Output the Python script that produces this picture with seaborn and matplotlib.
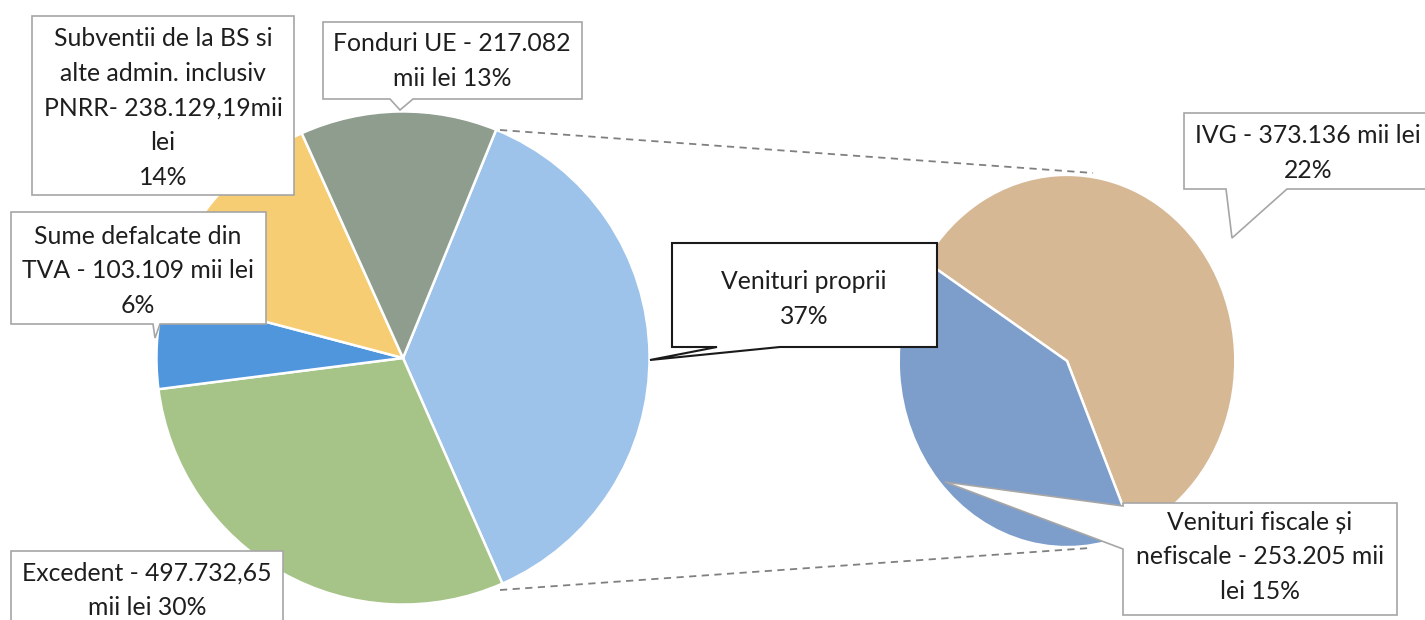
import matplotlib
matplotlib.use("Agg")
import matplotlib.pyplot as plt
import seaborn as sns
from matplotlib.patches import Polygon

sns.set_theme(style="white")
plt.rcParams['font.family'] = ['Lato', 'DejaVu Sans']

# main pie (structura veniturilor), clockwise from "Venituri proprii"
main_labels = ["Venituri proprii", "Excedent", "Sume defalcate din TVA",
               "Subventii de la BS si alte admin. inclusiv PNRR", "Fonduri UE"]
main_values = [626.341, 497.73265, 103.109, 238.12919, 217.082]
main_colors = ["#9DC3EA", "#A6C388", "#5096DC", "#F6CD72", "#8F9D8F"]

# second pie: split of "Venituri proprii"
sub_labels = ["IVG", "Venituri fiscale și nefiscale"]
sub_values = [373.136, 253.205]
sub_colors = ["#D6B895", "#7D9DCB"]

# callout texts
main_texts = [
    "Venituri proprii\n37%",
    "Excedent - 497.732,65\nmii lei 30%",
    "Sume defalcate din\nTVA - 103.109 mii lei\n6%",
    "Subventii de la BS si\nalte admin. inclusiv\nPNRR- 238.129,19mii\nlei\n14%",
    "Fonduri UE - 217.082\nmii lei 13%",
]
sub_texts = [
    "IVG - 373.136 mii lei\n22%",
    "Venituri fiscale și\nnefiscale - 253.205 mii\nlei 15%",
]

W, H = 1425, 620
fig = plt.figure(figsize=(W / 100, H / 100), dpi=100)
fig.patch.set_facecolor("white")


def px_axes(x0, y0, x1, y1, **kw):
    # axes placed with pixel coordinates (origin top-left)
    return fig.add_axes([x0 / W, (H - y1) / H, (x1 - x0) / W, (y1 - y0) / H], **kw)


ax_main = px_axes(154, 109, 652, 607)
ax_main.pie(main_values, colors=sns.color_palette(main_colors), startangle=67.8,
            counterclock=False, radius=1,
            wedgeprops=dict(edgecolor="white", linewidth=1.8))
ax_main.set_aspect("auto")
ax_main.set_xlim(-1.01, 1.01)
ax_main.set_ylim(-1.01, 1.01)
ax_main.axis("off")

ax_sub = px_axes(897, 173, 1237, 549)
ax_sub.pie(sub_values, colors=sns.color_palette(sub_colors), startangle=147.5,
           counterclock=False, radius=1,
           wedgeprops=dict(edgecolor="white", linewidth=1.8))
ax_sub.set_aspect("auto")
ax_sub.set_xlim(-1.01, 1.01)
ax_sub.set_ylim(-1.01, 1.01)
ax_sub.axis("off")

# overlay in pixel coordinates for callouts and connector lines
ov = fig.add_axes([0, 0, 1, 1], facecolor="none")
ov.set_xlim(0, W)
ov.set_ylim(H, 0)
ov.axis("off")

# connectors between the two pies
ov.plot([500, 1093], [130, 173], ls=(0, (4, 3)), color="#808080", lw=1.3)
ov.plot([500, 1090], [590, 548], ls=(0, (4, 3)), color="#808080", lw=1.3)


def callout(verts, ec="#A6A6A6", lw=1.2):
    ov.add_patch(Polygon(verts, closed=True, facecolor="white", edgecolor=ec,
                         lw=lw, zorder=3))


def box_bottom(x0, y0, x1, y1, ba, bb, tip):
    return [(x0, y0), (x1, y0), (x1, y1), (bb, y1), tip, (ba, y1), (x0, y1)]


txt_kw = dict(ha="center", va="center", fontsize=17.8, color="#1E1E1E",
              linespacing=1.62, zorder=4)

# Venituri proprii
callout(box_bottom(672, 243, 937, 347, 717, 780, (650, 360)), ec="#1A1A1A", lw=1.5)
ov.text(804, 299, main_texts[0], **txt_kw)

# Excedent
callout([(11, 551), (283, 551), (283, 630), (11, 630)])
ov.text(147, 590, main_texts[1], **txt_kw)

# Sume defalcate din TVA
callout(box_bottom(11, 212, 266, 324, 153, 160, (155, 338)))
ov.text(138, 271, main_texts[2], **txt_kw)

# Subventii
callout([(32, 16), (294, 16), (294, 195), (32, 195)])
ov.text(163, 108, main_texts[3], **txt_kw)

# Fonduri UE
callout(box_bottom(323, 22, 582, 99, 390, 413, (400, 110)))
ov.text(452, 61, main_texts[4], **txt_kw)

# IVG
callout(box_bottom(1184, 113, 1432, 189, 1226, 1287, (1232, 238)))
ov.text(1308, 153, sub_texts[0], **txt_kw)

# Venituri fiscale si nefiscale (pointer enters from the left)
callout([(1123, 503), (1397, 503), (1397, 615), (1123, 615), (1123, 549),
         (945, 482), (1123, 506)])
ov.text(1260, 557, sub_texts[1], **txt_kw)

fig.savefig("out.png", dpi=100, facecolor="white")
